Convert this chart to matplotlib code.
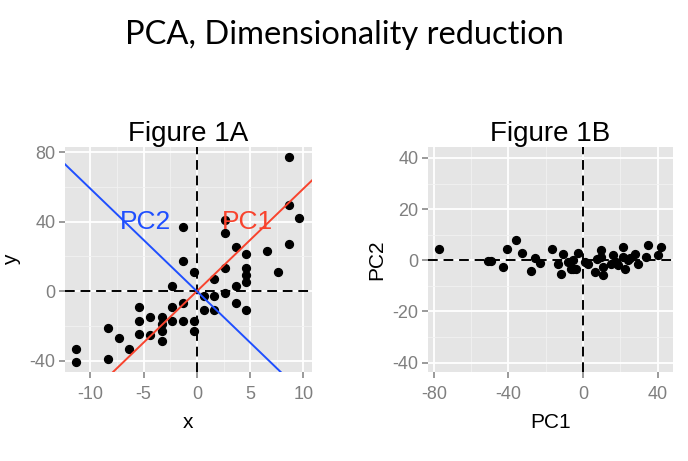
import matplotlib
matplotlib.use('Agg')
import matplotlib.pyplot as plt
from matplotlib.ticker import FixedLocator

plt.rcParams['font.family'] = ['Liberation Sans', 'DejaVu Sans']
plt.rcParams['axes.unicode_minus'] = False

# Figure 1A: raw data (x, y)
x_a = [8.6, 8.6, 9.6, 8.6, 6.6, 7.6, 2.6, 2.6, -1.3, 3.7, 4.6, 4.6, 4.6, 4.6,
       2.6, 1.6, 3.7, -1.3, -0.3, -2.3, 0.7, 1.6, 2.6, 3.7, 4.6, 0.7, 1.6,
       -1.3, -2.3, -5.4, -5.4, -4.4, -3.3, -3.3, -2.3, -1.3, -0.3, -0.3, -3.3,
       -4.4, -5.4, -3.3, -8.3, -7.3, -6.4, -8.3, -11.3, -11.3]
y_a = [77.3, 49.4, 41.9, 27.1, 23.3, 11.2, 41.2, 33.3, 37.1, 25.2, 21.2, 13.3,
       9.2, 5.2, 13.1, 7.1, 3.1, 17.3, 11.2, 3.3, -2.9, -2.9, -1.0, -6.7, -11.0,
       -11.0, -11.0, -6.9, -8.8, -8.8, -16.9, -14.8, -14.8, -18.8, -16.9, -16.9,
       -16.9, -22.9, -22.9, -25.4, -24.8, -28.8, -21.0, -26.9, -33.1, -38.8,
       -33.1, -40.8]

pc1_slope = 5.9
pc2_slope = -5.9

# Figure 1B: rotated data (PC1, PC2)
pc1 = [-77.3, -50.9, -49.6, -42.9, -41.0, -36.1, -32.9, -28.1, -25.6, -22.9,
       -16.5, -13.4, -10.7, -12.0, -8.1, -6.3, -2.7, -3.6, 0.9, 2.7, 9.8,
       9.8, 10.7, 6.3, 10.7, 16.1, 17.9, 21.5, 21.5, 25.0, 27.7, 29.5, 34.9,
       34.0, 40.3, 42.1, 15.2, 22.4, -5.4, -5.4, 7.5, 19.0, 24.0]
pc2 = [4.4, -0.1, -0.3, -2.6, 4.6, 7.8, 2.9, -4.2, 0.7, -1.0, 4.6, -1.3, 2.3,
       -5.2, -0.7, -3.3, 2.9, -3.3, -0.7, -1.3, 3.9, 1.3, -2.6, -4.6, -5.9,
       2.0, -0.7, 5.2, 1.3, 0.7, 2.6, -1.3, 5.9, 1.3, 2.0, 5.2, -1.3, -3.3,
       0.0, -3.5, 0.5, -2.0, 0.0]

fig = plt.figure(figsize=(6.88, 4.61), dpi=100)
fig.text(0.5, 1 - 35 / 461, 'PCA, Dimensionality reduction', ha='center',
         va='center', fontsize=23.5, family=['Lato', 'DejaVu Sans'])

W, H = 688, 461
ax1 = fig.add_axes([65 / W, 1 - 372 / H, 247 / W, 225 / H])
ax2 = fig.add_axes([428 / W, 1 - 372 / H, 245 / W, 225 / H])


def gg_style(ax, xmajor, xminor, ymajor, yminor):
    ax.set_facecolor('#E5E5E5')
    for s in ax.spines.values():
        s.set_visible(False)
    ax.set_xticks(xmajor)
    ax.set_yticks(ymajor)
    ax.xaxis.set_minor_locator(FixedLocator(xminor))
    ax.yaxis.set_minor_locator(FixedLocator(yminor))
    ax.grid(which='major', color='white', lw=1.3)
    ax.grid(which='minor', color='#F2F2F2', lw=0.6)
    ax.set_axisbelow(True)
    ax.tick_params(which='major', length=4, width=1.1, color='#7F7F7F',
                   labelcolor='#7F7F7F', labelsize=13, pad=3)
    ax.tick_params(axis='x', which='major', pad=6)
    ax.tick_params(which='minor', length=0)


# Figure 1A
gg_style(ax1, [-10, -5, 0, 5, 10], [-7.5, -2.5, 2.5, 7.5],
         [-40, 0, 40, 80], [-20, 20, 60])
ax1.axhline(0, color='black', ls=(0, (5, 3)), lw=1.4, zorder=2)
ax1.axvline(0, color='black', ls=(0, (5, 3)), lw=1.4, zorder=2)
ax1.scatter(x_a, y_a, s=32, color='black', zorder=3)
ax1.axline((0, 0), slope=pc1_slope, color='#F8432D', lw=1.4, zorder=4)
ax1.axline((0, 0), slope=pc2_slope, color='#1F4FFF', lw=1.4, zorder=4)
ax1.text(-4.85, 39.8, 'PC2', color='#1F4FFF', fontsize=19, ha='center',
         va='center', zorder=5)
ax1.text(4.7, 39.8, 'PC1', color='#F8432D', fontsize=19, ha='center',
         va='center', zorder=5)
ax1.set_xlim(-12.37, 10.8)
ax1.set_ylim(-46.4, 82.9)
ax1.set_title('Figure 1A', fontsize=20, pad=4)
ax1.set_xlabel('x', fontsize=15, labelpad=7)
ax1.set_ylabel('y', fontsize=15, labelpad=6)

# Figure 1B
gg_style(ax2, [-80, -40, 0, 40], [-60, -20, 20],
         [-40, -20, 0, 20, 40], [-30, -10, 10, 30])
ax2.axhline(0, color='black', ls=(0, (5, 3)), lw=1.4, zorder=2)
ax2.axvline(0, color='black', ls=(0, (5, 3)), lw=1.4, zorder=2)
ax2.scatter(pc1, pc2, s=32, color='black', zorder=3)
ax2.set_xlim(-83.2, 48.3)
ax2.set_ylim(-43.7, 44.3)
ax2.set_title('Figure 1B', fontsize=20, pad=4)
ax2.set_xlabel('PC1', fontsize=15, labelpad=7)
ax2.set_ylabel('PC2', fontsize=15)

fig.savefig('out.png', dpi=100)
